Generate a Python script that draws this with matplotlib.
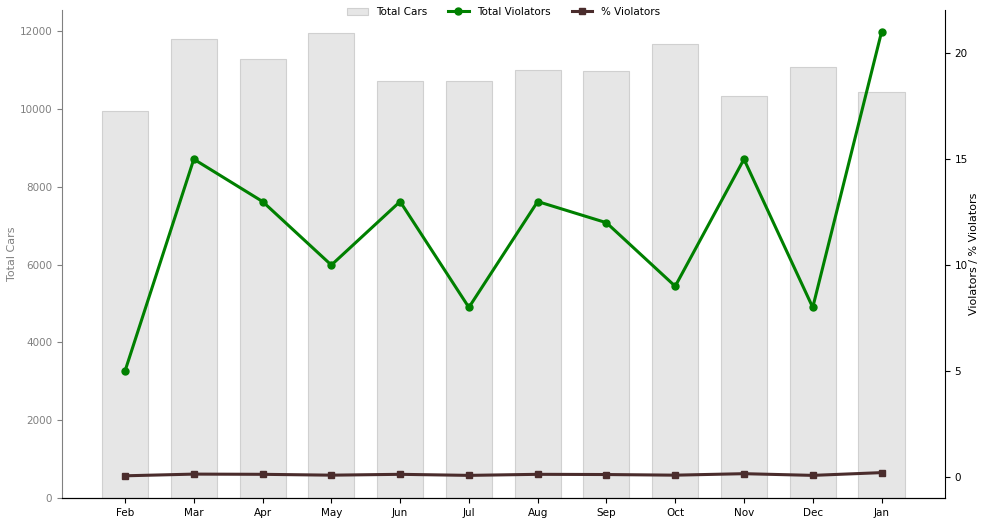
import matplotlib
matplotlib.use('Agg')
import matplotlib.pyplot as plt
import numpy as np

# data
months = ['Feb', 'Mar', 'Apr', 'May', 'Jun', 'Jul', 'Aug', 'Sep', 'Oct', 'Nov', 'Dec', 'Jan']
total_cars = [9960, 11790, 11280, 11950, 10710, 10710, 11000, 10970, 11660, 10330, 11070, 10450]
total_violators = [5, 15, 13, 10, 13, 8, 13, 12, 9, 15, 8, 21]
pct_violators = [0.05, 0.13, 0.12, 0.08, 0.12, 0.07, 0.12, 0.11, 0.08, 0.15, 0.07, 0.20]

plt.rcParams['font.family'] = 'DejaVu Sans'
plt.rcParams['font.size'] = 7.5

fig, ax1 = plt.subplots(figsize=(9.82, 5.22), dpi=100)
fig.subplots_adjust(left=0.063, right=0.962, bottom=0.046, top=0.981)

x = np.arange(len(months))
bars = ax1.bar(x, total_cars, width=0.67, color='#e6e6e6', edgecolor='#d0d0d0',
               linewidth=0.8, label='Total Cars')
ax1.set_ylabel('Total Cars', color='gray', fontsize=8, labelpad=2)
ax1.tick_params(axis='y', colors='gray', labelsize=7.5)
ax1.tick_params(axis='x', labelsize=7.5)
ax1.set_xticks(x)
ax1.set_xticklabels(months)
ax1.spines['left'].set_color('gray')
ax1.spines['top'].set_visible(False)
ax1.spines['right'].set_visible(False)

ax2 = ax1.twinx()
l1, = ax2.plot(x, total_violators, color='green', marker='o', linewidth=2.2,
               markersize=5, label='Total Violators')
l2, = ax2.plot(x, pct_violators, color='#4a2c2c', marker='s', linewidth=2.2,
               markersize=5, label='% Violators')
ax2.set_ylabel('Violators / % Violators', fontsize=8, labelpad=1)
ax2.tick_params(axis='y', labelsize=7.5)
ax2.spines['top'].set_visible(False)
ax2.spines['left'].set_visible(False)

ax1.legend([bars, l1, l2], ['Total Cars', 'Total Violators', '% Violators'],
           loc='upper center', bbox_to_anchor=(0.5, 1.025), ncol=3, frameon=False,
           fontsize=7.5, columnspacing=2.0)

plt.savefig('out.png', dpi=100)
